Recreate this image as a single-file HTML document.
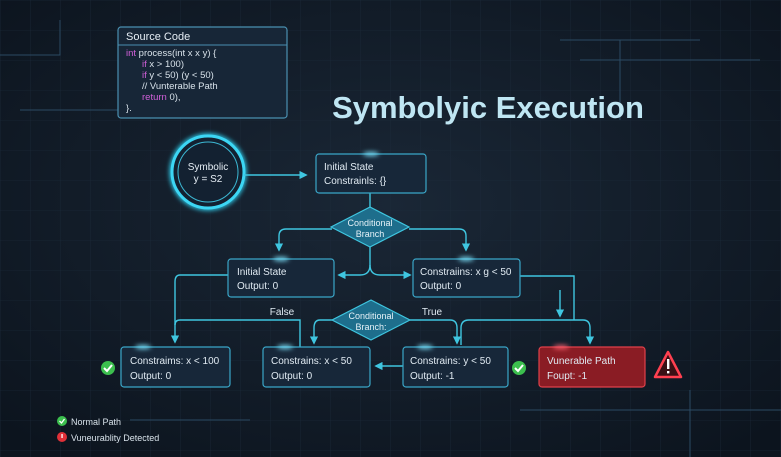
<!DOCTYPE html>
<html><head><meta charset="utf-8"><style>
html,body{margin:0;padding:0;background:#0f1824;}
svg{display:block;font-family:"Liberation Sans","DejaVu Sans",sans-serif;}
</style></head><body>
<svg width="781" height="457" viewBox="0 0 781 457" xmlns="http://www.w3.org/2000/svg">
<defs>
<radialGradient id="bg" cx="50%" cy="45%" r="70%"><stop offset="0" stop-color="#1a2736"/><stop offset="1" stop-color="#0c141e"/></radialGradient>
<pattern id="grid" width="30" height="30" patternUnits="userSpaceOnUse"><path d="M30 0H0V30" fill="none" stroke="#1d2d3d" stroke-width="0.6"/></pattern>
<marker id="a" viewBox="0 0 10 10" refX="8" refY="5" markerWidth="6" markerHeight="6" orient="auto"><path d="M0 0L10 5L0 10z" fill="#3fc6e0"/></marker>
<filter id="glow"><feGaussianBlur stdDeviation="2.5"/></filter>
</defs>
<rect width="781" height="457" fill="url(#bg)"/>
<rect width="781" height="457" fill="url(#grid)"/>
<g stroke="#2b4a63" stroke-width="1" fill="none">
<path d="M0 55H60V20M20 110H118M560 40H700M620 40V120M690 390V457M520 410H781M130 420H250M580 60H760"/>
</g>
<!-- source code -->
<rect x="118" y="27" width="169" height="91" rx="3" fill="#172637" stroke="#4a8fb0" stroke-width="1.2"/>
<line x1="118" y1="45" x2="287" y2="45" stroke="#4a8fb0"/>
<text x="126" y="40" fill="#e6eef5" font-size="11">Source Code</text>
<g font-size="9.5" fill="#d8e2ea">
<text x="126" y="56"><tspan fill="#d060d8">int</tspan> process(int x x y) {</text>
<text x="142" y="67"><tspan fill="#d060d8">if</tspan> x &gt; 100)</text>
<text x="142" y="78"><tspan fill="#d060d8">if</tspan> y &lt; 50) (y &lt; 50)</text>
<text x="142" y="89">// Vunterable Path</text>
<text x="142" y="100"><tspan fill="#d060d8">return</tspan> 0),</text>
<text x="126" y="111">}.</text>
</g>
<text x="488" y="118" text-anchor="middle" fill="#bfe6f3" font-size="31" font-weight="bold">Symbolyic Execution</text>
<!-- circle -->
<circle cx="208" cy="172" r="36" fill="none" stroke="#2fd0f0" stroke-width="5" filter="url(#glow)"/>
<circle cx="208" cy="172" r="36" fill="#132131" stroke="#3cd6f4" stroke-width="3"/>
<circle cx="208" cy="172" r="30" fill="none" stroke="#3cb8d4" stroke-width="1"/>
<text x="208" y="170" text-anchor="middle" fill="#e6eef5" font-size="10">Symbolic</text>
<text x="208" y="182" text-anchor="middle" fill="#e6eef5" font-size="10">y = S2</text>
<g stroke="#3fc6e0" stroke-width="1.4" fill="none">
<line x1="244" y1="175" x2="306" y2="175" marker-end="url(#a)"/>
<line x1="370" y1="193" x2="370" y2="207"/>
<path d="M332 229H286Q279 229 279 236V250" marker-end="url(#a)"/>
<path d="M409 229H459Q466 229 466 236V250" marker-end="url(#a)"/>
<path d="M370 247V265Q370 275 360 275H339" marker-end="url(#a)"/>
<path d="M370 265Q370 275 380 275H410" marker-end="url(#a)"/>
<path d="M228 275H180Q175 275 175 282V342" marker-end="url(#a)"/>
<path d="M520 276H574V320"/>
<path d="M560 290V316" marker-end="url(#a)"/>
<path d="M300 347V320H180Q175 320 175 325"/>
<path d="M332 320H320Q314 320 314 328V343" marker-end="url(#a)"/>
<path d="M410 320H450Q457 320 457 328V343" marker-end="url(#a)"/>
<path d="M461 345V328Q461 320 469 320H583Q590 320 590 328V343" marker-end="url(#a)"/>
<line x1="403" y1="366" x2="376" y2="366" marker-end="url(#a)"/>
</g>
<!-- boxes -->
<g fill="#172739" stroke="#3aa6c8" stroke-width="1.2">
<rect x="316" y="154" width="110" height="39" rx="3"/>
<rect x="228" y="259" width="106" height="38" rx="3"/>
<rect x="413" y="259" width="107" height="38" rx="3"/>
<rect x="121" y="347" width="109" height="40" rx="3"/>
<rect x="263" y="347" width="107" height="40" rx="3"/>
<rect x="403" y="347" width="105" height="40" rx="3"/>
<path d="M370 207L409 227L370 247L331 227Z" fill="#1e6e8c" stroke="#3fc6e0"/>
<path d="M371 300L410 320L371 340L332 320Z" fill="#1e6e8c" stroke="#3fc6e0"/>
</g>
<rect x="539" y="347" width="106" height="40" rx="3" fill="#8a1c24" stroke="#e0404a" stroke-width="1.2"/>
<g fill="#7fe6ff" filter="url(#glow)">
<ellipse cx="371" cy="154" rx="8" ry="2"/><ellipse cx="281" cy="259" rx="8" ry="2"/><ellipse cx="466" cy="259" rx="8" ry="2"/>
<ellipse cx="143" cy="347" rx="8" ry="2"/><ellipse cx="285" cy="347" rx="8" ry="2"/><ellipse cx="425" cy="347" rx="8" ry="2"/>
<ellipse cx="561" cy="347" rx="8" ry="2" fill="#ff6070"/>
</g>
<g font-size="10" fill="#e0eaf2">
<text x="324" y="170">Initial State</text><text x="324" y="184">Constrainls: {}</text>
<text x="237" y="275">Initial State</text><text x="237" y="289">Output: 0</text>
<text x="420" y="275">Constraiins: x g &lt; 50</text><text x="420" y="289">Output: 0</text>
<text x="130" y="364">Constraims:  x &lt; 100</text><text x="130" y="379">Output: 0</text>
<text x="271" y="364">Constrains: x &lt; 50</text><text x="271" y="379">Output: 0</text>
<text x="410" y="364">Constrains: y &lt; 50</text><text x="410" y="379">Output: -1</text>
<text x="547" y="364">Vunerable Path</text><text x="547" y="379">Foupt: -1</text>
<text x="282" y="315" text-anchor="middle">False</text><text x="432" y="315" text-anchor="middle">True</text>
</g>
<g font-size="9" fill="#e6f2f8" text-anchor="middle">
<text x="370" y="226">Conditional</text><text x="370" y="237">Branch</text>
<text x="371" y="319">Conditional</text><text x="371" y="330">Branch:</text>
</g>
<!-- icons -->
<circle cx="108" cy="368" r="7" fill="#3cbf4e"/><path d="M104 368l3 3l5-6" stroke="#fff" stroke-width="2" fill="none"/>
<circle cx="519" cy="368" r="7" fill="#3cbf4e"/><path d="M515 368l3 3l5-6" stroke="#fff" stroke-width="2" fill="none"/>
<path d="M668 352L681 377H655Z" fill="#3a1015" stroke="#ff4050" stroke-width="2.5" stroke-linejoin="round"/>
<rect x="667" y="359" width="2.4" height="10" fill="#fff"/><rect x="667" y="371" width="2.4" height="2.4" fill="#fff"/>
<circle cx="62" cy="421" r="5" fill="#3cbf4e"/><path d="M59.5 421l2 2l3-4" stroke="#fff" stroke-width="1.3" fill="none"/>
<circle cx="62" cy="437" r="5" fill="#e03038"/><rect x="61.4" y="434" width="1.3" height="4" fill="#fff"/>
<text x="71" y="425" font-size="9" fill="#d8e2ea">Normal Path</text>
<text x="71" y="441" font-size="9" fill="#d8e2ea">Vuneurablity Detected</text>
</svg>
</body></html>
